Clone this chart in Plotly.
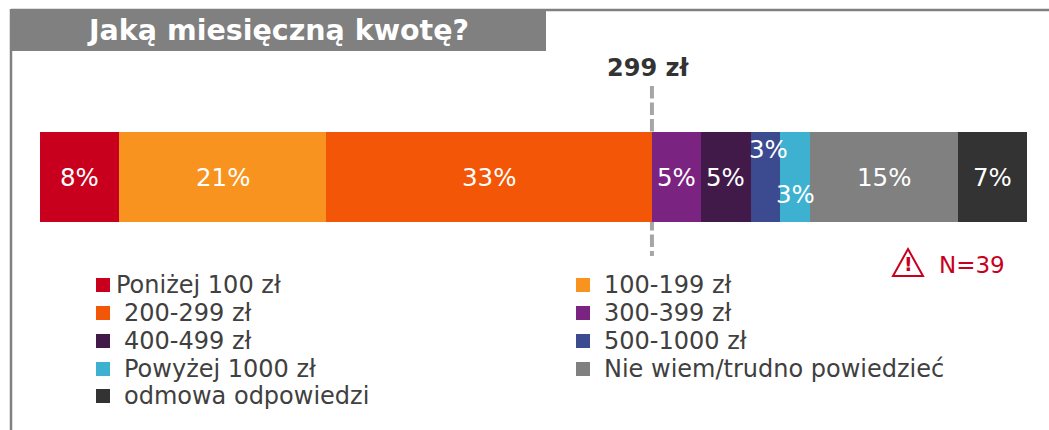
import plotly.graph_objects as go

# Data
categories = ["Poniżej 100 zł", "100-199 zł", "200-299 zł", "300-399 zł", "400-499 zł",
              "500-1000 zł", "Powyżej 1000 zł", "Nie wiem/trudno powiedzieć", "odmowa odpowiedzi"]
values = [8, 21, 33, 5, 5, 3, 3, 15, 7]
colors = ["#C8001E", "#F7931E", "#F25606", "#7B2381", "#421A4A", "#3C4A90", "#3DB1CF", "#808080", "#333333"]
label_shift = [0, 0, 0, 0, 0, 28, -17, 0, 0]
label_xshift = [0, 0, 0, 0, 0, 3, 0, 0, 0]
legend_order = [0, 2, 4, 6, 8, 1, 3, 5, 7]
title_text = "Jaką miesięczną kwotę?"
median_label = "299 zł"
median_value = 62
sample_text = "N=39"

W, H = 1049, 430
X0, X1 = 40, 1027
BT, BB = 132, 222
FONT = "DejaVu Sans"
unit = (X1 - X0) / 100
ypx = BB - BT


def px(x):
    return x / W


def py(y):
    return 1 - y / H


fig = go.Figure()
for c, v, col in zip(categories, values, colors):
    fig.add_bar(x=[v], y=[0], name=c, orientation="h", width=1,
                marker=dict(color=col, line=dict(width=0)), showlegend=False,
                hovertemplate=c + ": %{x}%<extra></extra>")

shapes = []
annots = []

# value labels
cum = 0
for v, s, sx in zip(values, label_shift, label_xshift):
    annots.append(dict(x=cum + v / 2, y=0, xref="x", yref="y", text=f"{v}%", showarrow=False,
                       xanchor="center", yanchor="middle", xshift=sx,
                       yshift=s, font=dict(family=FONT, size=24.5, color="white")))
    cum += v

# frame and header
GR = "#808080"
shapes += [
    dict(type="line", xref="paper", yref="paper", x0=px(11), x1=px(11), y0=py(9), y1=py(430),
         line=dict(color=GR, width=2.5)),
    dict(type="line", xref="paper", yref="paper", x0=px(11), x1=px(1049), y0=py(10), y1=py(10),
         line=dict(color=GR, width=2.5)),
    dict(type="rect", xref="paper", yref="paper", x0=px(10), x1=px(546), y0=py(9), y1=py(51),
         fillcolor=GR, line=dict(width=0)),
]
annots.append(dict(x=px(278), y=py(31), xref="paper", yref="paper", text=f"<b>{title_text}</b>", showarrow=False,
                   xanchor="center", yanchor="middle",
                   font=dict(family=FONT, size=28.5, color="white")))

# median marker
shapes.append(dict(type="line", xref="x", yref="paper", x0=median_value, x1=median_value, y0=py(86), y1=py(256),
                   layer="below", line=dict(color="#A6A6A6", width=4, dash="12.5px,4px")))
annots.append(dict(x=px(648), y=py(68), xref="paper", yref="paper", text=f"<b>{median_label}</b>", showarrow=False,
                   xanchor="center", yanchor="middle",
                   font=dict(family=FONT, size=24, color="#333333")))

# warning + N
RED = "#C8001E"
tri = "M {:.5f} {:.5f} L {:.5f} {:.5f} L {:.5f} {:.5f} Z".format(px(908), py(249), px(923), py(276), px(893), py(276))
shapes.append(dict(type="path", xref="paper", yref="paper", path=tri, line=dict(color=RED, width=2)))
annots.append(dict(x=px(908), y=py(264), xref="paper", yref="paper", text="<b>!</b>", showarrow=False,
                   xanchor="center", yanchor="middle",
                   font=dict(family=FONT, size=19, color=RED)))
annots.append(dict(x=px(937), y=py(265), xref="paper", yref="paper", text=sample_text, showarrow=False,
                   xanchor="left", yanchor="middle",
                   font=dict(family=FONT, size=23, color=RED)))

# legend
col_x = [96, 576]
row_y = [285, 313, 341, 369, 396]
for n, i in enumerate(legend_order):
    cx = col_x[0] if n < 5 else col_x[1]
    cy = row_y[n if n < 5 else n - 5]
    shapes.append(dict(type="rect", xref="paper", yref="paper", x0=px(cx), x1=px(cx + 14),
                       y0=py(cy - 7), y1=py(cy + 7), fillcolor=colors[i], line=dict(width=0)))
    tx = cx + (18 if i == 0 else 26 if n < 5 else 26)
    annots.append(dict(x=px(tx), y=py(cy), xref="paper", yref="paper", text=categories[i], showarrow=False,
                       xanchor="left", yanchor="middle", font=dict(family=FONT, size=24, color="#404040")))

fig.update_layout(
    width=W, height=H, autosize=False, barmode="stack", bargap=0,
    margin=dict(l=0, r=0, t=0, b=0, pad=0),
    paper_bgcolor="white", plot_bgcolor="rgba(0,0,0,0)",
    showlegend=False, shapes=shapes, annotations=annots,
    xaxis=dict(range=[-X0 / unit, (W - X0) / unit], visible=False, fixedrange=True),
    yaxis=dict(range=[-0.5 - (H - BB) / ypx, 0.5 + BT / ypx], visible=False, fixedrange=True),
)
fig.write_html("out.html", config={"displayModeBar": False},
               post_script="document.body.style.margin='0';document.documentElement.style.overflow='hidden';")
